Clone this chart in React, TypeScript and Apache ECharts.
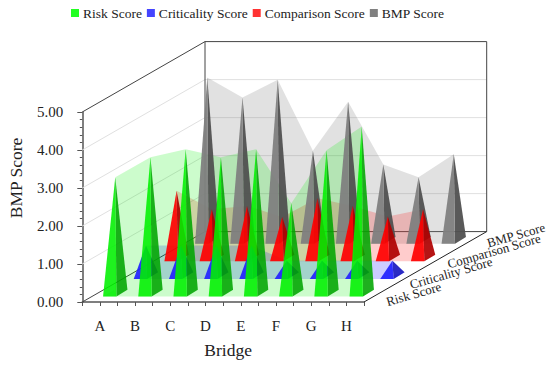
import React, { useEffect, useRef } from "react";
import * as echarts from "echarts";

const categories = ["A", "B", "C", "D", "E", "F", "G", "H"];
const riskScore = [3.05, 3.58, 3.79, 3.58, 3.79, 2.37, 3.76, 4.39];
const criticalityScore = [0.79, 0.79, 0.79, 0.79, 0.39, 0.39, 0.39, 0.39];
const comparisonScore = [1.77, 1.28, 1.37, 1.08, 1.57, 1.37, 1.09, 1.28];
const bmpScore = [4.29, 3.76, 4.23, 2.36, 3.65, 2.0, 1.66, 2.27];
const wallTicks = [1, 2, 3, 4];

const FONT = "'Liberation Serif', serif";
const TEXT = "#222";
const AXIS = "#555";
const DX = 122.7;
const DY = -70.4;
const ROWS = 4;
const HALF_W = 0.19;
const HALF_DX = 5.5;
const HALF_DY = 3.35;

function wallSeries() {
  return {
    type: "custom",
    coordinateSystem: "cartesian2d",
    silent: true,
    clip: false,
    data: [[0, 0]],
    encode: { x: 0, y: 1 },
    renderItem: (params: any, api: any) => {
      const cs = params.coordSys;
      const xL = cs.x;
      const xR = cs.x + cs.width;
      const yB = api.coord([0, 0])[1];
      const yT = api.coord([0, 5])[1];
      const dark = { stroke: "#444", lineWidth: 1, fill: "none" };
      const light = { stroke: "#e0e0e0", lineWidth: 1, fill: "none" };
      const line = (x1: number, y1: number, x2: number, y2: number, style: any) => ({
        type: "line",
        shape: { x1, y1, x2, y2 },
        style,
      });
      const children: any[] = [];
      wallTicks.forEach((v) => {
        const y = api.coord([0, v])[1];
        children.push(line(xL, y, xL + DX, y + DY, light));
        children.push(line(xL + DX, y + DY, xR + DX, y + DY, light));
      });
      children.push(line(xL, yT, xL + DX, yT + DY, dark));
      children.push(line(xL + DX, yT + DY, xR + DX, yT + DY, dark));
      children.push(line(xL + DX, yT + DY, xL + DX, yB + DY, dark));
      children.push(line(xR + DX, yT + DY, xR + DX, yB + DY, dark));
      children.push(line(xL + DX, yB + DY, xR + DX, yB + DY, dark));
      children.push(line(xL, yB, xL + DX, yB + DY, dark));
      children.push(line(xR, yB, xR + DX, yB + DY, { ...dark, stroke: "#222" }));
      return { type: "group", children };
    },
  };
}

function rowOffset(row: number) {
  const t = (row + 0.5) / ROWS;
  return [t * DX, t * DY];
}

function areaSeries(row: number, values: number[], area: string) {
  const [ox, oy] = rowOffset(row);
  return {
    type: "custom",
    coordinateSystem: "cartesian2d",
    silent: true,
    clip: false,
    data: [[0, values[0]]],
    encode: { x: 0, y: 1 },
    renderItem: (params: any, api: any) => {
      const hw = api.size([1, 0])[0] * HALF_W;
      const baseOf = (k: number) => {
        const p = api.coord([k, 0]);
        return [p[0] + ox, p[1] + oy];
      };
      const apexOf = (k: number, val: number) => {
        const p = api.coord([k, val]);
        return [p[0] + ox, p[1] + oy];
      };
      const c = baseOf(0);
      const cl = baseOf(values.length - 1);
      const points: number[][] = values.map((val, k) => apexOf(k, val));
      points.push(cl);
      points.push([cl[0] + hw + HALF_DX, cl[1] - HALF_DY]);
      points.push([cl[0] + hw - HALF_DX, cl[1] + HALF_DY]);
      points.push([c[0] - hw - HALF_DX, c[1] + HALF_DY]);
      points.push([c[0] - hw + HALF_DX, c[1] - HALF_DY]);
      points.push(c);
      return { type: "polygon", shape: { points }, style: { fill: area } };
    },
  };
}

function pyramidSeries(
  name: string,
  row: number,
  values: number[],
  legendColor: string,
  front: string,
  side: string
) {
  const [ox, oy] = rowOffset(row);
  return {
    name,
    type: "custom",
    coordinateSystem: "cartesian2d",
    silent: true,
    clip: false,
    itemStyle: { color: legendColor },
    data: values.map((v, i) => [i, v]),
    encode: { x: 0, y: 1 },
    renderItem: (params: any, api: any) => {
      const i = api.value(0);
      const v = api.value(1);
      const hw = api.size([1, 0])[0] * HALF_W;
      const p0 = api.coord([i, 0]);
      const c = [p0[0] + ox, p0[1] + oy];
      const fl = [c[0] - hw - HALF_DX, c[1] + HALF_DY];
      const fr = [c[0] + hw - HALF_DX, c[1] + HALF_DY];
      const br = [c[0] + hw + HALF_DX, c[1] - HALF_DY];
      const pv = api.coord([i, v]);
      const apex = [pv[0] + ox, pv[1] + oy];
      return {
        type: "group",
        children: [
          { type: "polygon", shape: { points: [fr, br, apex] }, style: { fill: side } },
          { type: "polygon", shape: { points: [fl, fr, apex] }, style: { fill: front } },
        ],
      };
    },
  };
}

function depthText(text: string, x: number, y: number) {
  return {
    type: "text",
    x,
    y,
    rotation: (16 * Math.PI) / 180,
    style: {
      text,
      fill: TEXT,
      font: `13px ${FONT}`,
      align: "center",
      verticalAlign: "middle",
    },
  };
}

export default function App() {
  const ref = useRef<HTMLDivElement>(null);
  useEffect(() => {
    const chart = echarts.init(ref.current!, undefined, { renderer: "svg" });
    chart.setOption({
      animation: false,
      grid: { left: 82.3, right: 186, top: 112, bottom: 64, containLabel: false, outerBoundsMode: "none" },
      legend: {
        data: ["Risk Score", "Criticality Score", "Comparison Score", "BMP Score"],
        left: 71,
        top: 6,
        padding: 0,
        itemWidth: 8,
        itemHeight: 8,
        itemGap: 5,
        icon: "rect",
        textStyle: { fontFamily: FONT, fontSize: 13.5, color: TEXT, padding: [0, 0, 0, -1] },
      },
      xAxis: [
        {
          type: "category",
          data: categories,
          position: "bottom",
          name: "Bridge",
          nameLocation: "middle",
          nameGap: 39,
          nameTextStyle: { fontFamily: FONT, fontSize: 17.5, color: TEXT, padding: [0, 0, 0, 10] },
          axisLine: { onZero: false, lineStyle: { color: AXIS, width: 1.5 } },
          axisTick: { show: true, length: 4, lineStyle: { color: AXIS } },
          axisLabel: { interval: 0, margin: 16, fontFamily: FONT, fontSize: 15, color: TEXT },
          splitLine: { show: false },
        },
        {
          type: "category",
          data: categories,
          position: "bottom",
          axisLine: { show: false, onZero: false },
          axisTick: { show: true, alignWithLabel: true, length: 4, lineStyle: { color: AXIS } },
          axisLabel: { show: false },
          splitLine: { show: false },
        },
      ],
      yAxis: {
        type: "value",
        min: 0,
        max: 5,
        interval: 1,
        name: "BMP Score",
        nameLocation: "middle",
        nameGap: 57.5,
        nameTextStyle: { fontFamily: FONT, fontSize: 17.5, color: TEXT, padding: [0, 0, 0, 58] },
        axisLine: { show: true, lineStyle: { color: AXIS, width: 1.5 } },
        axisTick: { show: true, length: 5, lineStyle: { color: AXIS } },
        minorTick: { show: true, splitNumber: 5, length: 2.5, lineStyle: { color: AXIS } },
        axisLabel: {
          margin: 19,
          fontFamily: FONT,
          fontSize: 15,
          color: TEXT,
          formatter: (v: number) => v.toFixed(2),
        },
        splitLine: { show: false },
      },
      series: [
        wallSeries(),
        areaSeries(3, bmpScore, "rgba(128,128,128,0.24)"),
        areaSeries(2, comparisonScore, "rgba(255,0,0,0.2)"),
        areaSeries(1, criticalityScore, "rgba(0,0,255,0.2)"),
        areaSeries(0, riskScore, "rgba(0,240,0,0.2)"),
        pyramidSeries("BMP Score", 3, bmpScore, "#808080", "rgba(128,128,128,0.95)", "rgba(80,80,80,0.95)"),
        pyramidSeries("Comparison Score", 2, comparisonScore, "#ff3333", "rgba(255,0,0,0.92)", "rgba(175,0,0,0.92)"),
        pyramidSeries("Criticality Score", 1, criticalityScore, "#4444ff", "rgba(30,30,255,0.9)", "rgba(20,20,190,0.9)"),
        pyramidSeries("Risk Score", 0, riskScore, "#22ff22", "rgba(0,240,0,0.88)", "rgba(0,165,0,0.88)"),
      ],
      graphic: [
        depthText("Risk Score", 413.7, 294),
        depthText("Criticality Score", 451, 273),
        depthText("Comparison Score", 494, 251),
        depthText("BMP Score", 516, 235),
      ],
    });
    return () => chart.dispose();
  }, []);
  return <div ref={ref} style={{ width: 550, height: 366, position: "absolute", left: 0, top: 0 }} />;
}
